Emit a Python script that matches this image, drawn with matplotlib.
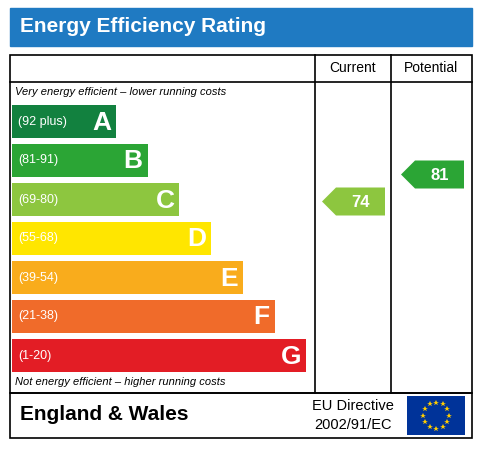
import matplotlib
matplotlib.use("Agg")
import matplotlib.pyplot as plt
from matplotlib.patches import Rectangle, Polygon
import numpy as np

bands = ["A", "B", "C", "D", "E", "F", "G"]
ranges = ["(92 plus)", "(81-91)", "(69-80)", "(55-68)", "(39-54)", "(21-38)", "(1-20)"]
lows = [92, 81, 69, 55, 39, 21, 1]
colors = ["#12813f", "#2ba535", "#8dc63f", "#ffe600", "#f9ac1c", "#f06b2a", "#e31d25"]
current = 74
potential = 81

W, H = 482, 451
fig = plt.figure(figsize=(W/100, H/100), dpi=100)
ax = fig.add_axes([0, 0, 1, 1])
ax.set_xlim(0, W); ax.set_ylim(H, 0); ax.axis("off")
fn = "Liberation Sans"

ax.add_patch(Rectangle((10, 8), 462, 38, color="#1f7ac2"))
ax.text(20, 27, "Energy Efficiency Rating", color="white", fontsize=15, fontweight="bold", va="center", family=fn)

lw = 1.2
ax.add_patch(Rectangle((10, 55), 462, 338, fill=False, lw=lw, ec="black"))
ax.add_patch(Rectangle((10, 393), 462, 45, fill=False, lw=lw, ec="black"))
ax.plot([315, 315], [55, 393], color="black", lw=lw)
ax.plot([391, 391], [55, 393], color="black", lw=lw)
ax.plot([10, 472], [82, 82], color="black", lw=lw)
ax.text(353, 68.5, "Current", ha="center", va="center", fontsize=10, family=fn)
ax.text(431, 68.5, "Potential", ha="center", va="center", fontsize=10, family=fn)
ax.text(15, 92, "Very energy efficient \u2013 lower running costs", fontsize=8, style="italic", va="center", family=fn)
ax.text(15, 382, "Not energy efficient \u2013 higher running costs", fontsize=8, style="italic", va="center", family=fn)

y0, step, bh = 105, 39.0, 33
centers = []
for i, (b, r, c) in enumerate(zip(bands, ranges, colors)):
    y = y0 + i*step
    x1 = 116 + i*31.7
    ax.add_patch(Rectangle((12, y), x1-12, bh, color=c, lw=0))
    centers.append(y + bh/2)
    tc = "white"
    ax.text(18, y+bh/2, r, color=tc, fontsize=9, va="center", family=fn)
    ax.text(x1-5, y+bh/2+1, b, color=tc, fontsize=19, fontweight="bold", va="center", ha="right", family=fn)

def band_idx(v):
    for i, lo in enumerate(lows):
        if v >= lo:
            return i
    return len(lows)-1

def arrow(x0, x1, yc, val):
    i = band_idx(val)
    h = 28
    pts = [(x0, yc), (x0+14, yc-h/2), (x1, yc-h/2), (x1, yc+h/2), (x0+14, yc+h/2)]
    ax.add_patch(Polygon(pts, closed=True, color=colors[i], lw=0))
    ax.text((x0+14+x1)/2, yc+1, str(val), color="white", fontsize=12, fontweight="bold", ha="center", va="center", family=fn)

arrow(322, 385, centers[band_idx(current)] + 2, current)
arrow(401, 464, centers[band_idx(potential)] + 14, potential)

ax.text(20, 415, "England & Wales", fontsize=15, fontweight="bold", va="center", family=fn)
ax.text(353, 406, "EU Directive", fontsize=10.5, ha="center", va="center", family=fn)
ax.text(353, 425, "2002/91/EC", fontsize=10.5, ha="center", va="center", family=fn)
ax.add_patch(Rectangle((407, 396), 58, 39, color="#003399", lw=0))
cx, cy = 436, 415.5
for k in range(12):
    a = 2*np.pi*k/12
    ax.plot(cx + 13*np.cos(a), cy + 13*np.sin(a), marker="*", color="#ffcc00", ms=4, mew=0)

fig.savefig("out.png", dpi=100)
